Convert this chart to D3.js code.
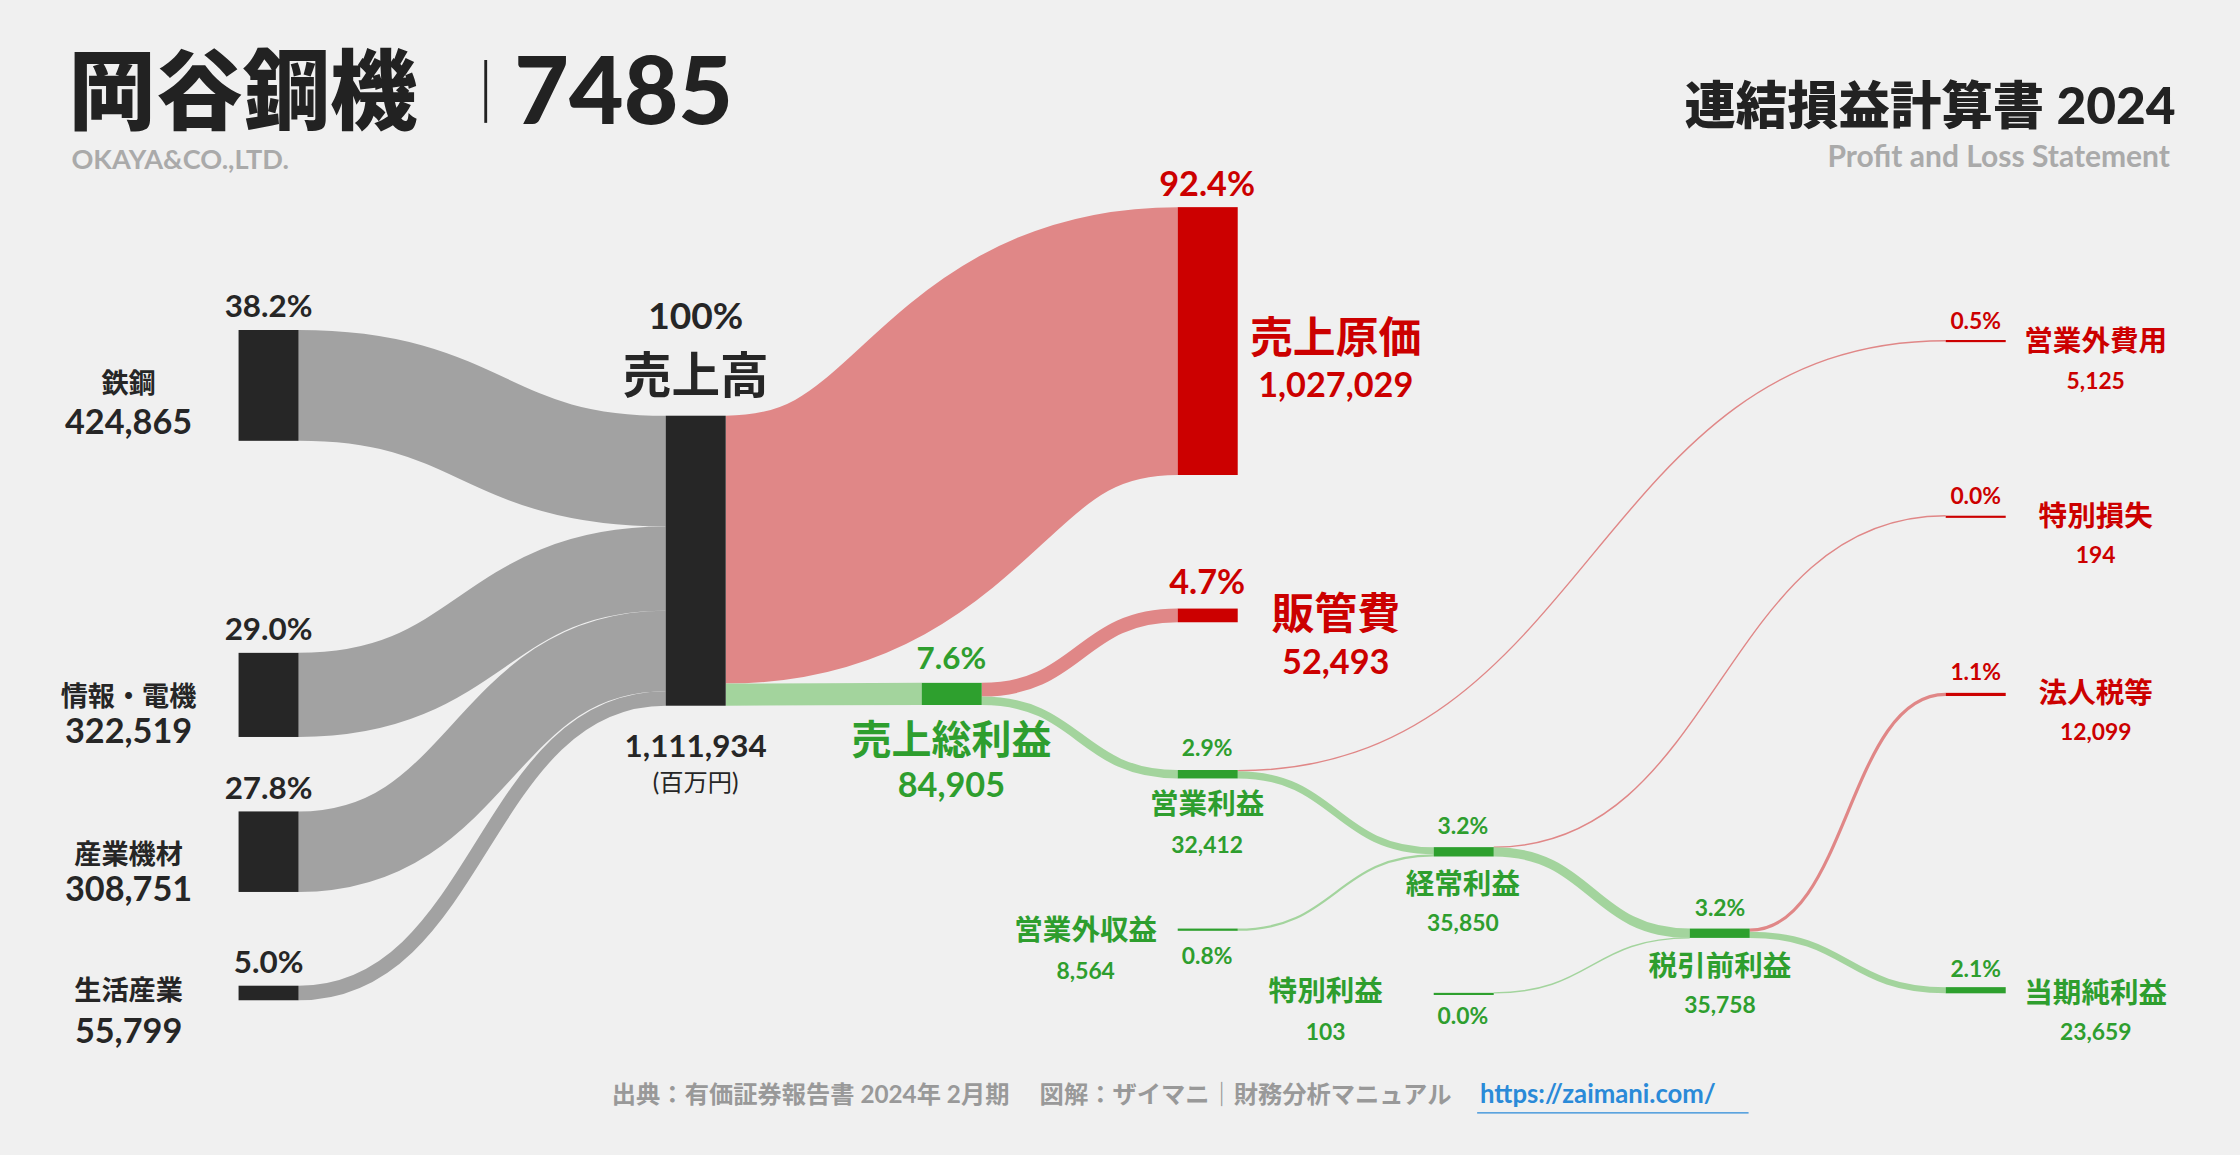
<!DOCTYPE html>
<html><head><meta charset="utf-8">
<script src="https://cdn.jsdelivr.net/npm/d3@7"></script>
<style>body{margin:0;background:#f0f0f0}svg{display:block;font-family:Lato,"Noto Sans CJK JP",sans-serif}</style>
</head><body>
<script>
// data (百万円)
const segNames = ["鉄鋼", "情報・電機", "産業機材", "生活産業"];
const segValues = [424865, 322519, 308751, 55799];
const segPct = ["38.2%", "29.0%", "27.8%", "5.0%"];

const plIds = ["rev", "cost", "gross", "sga", "op", "nonopInc", "nonopExp", "ordinary", "extraGain", "extraLoss", "pretax", "tax", "net"];
const plNames = ["売上高", "売上原価", "売上総利益", "販管費", "営業利益", "営業外収益", "営業外費用", "経常利益", "特別利益", "特別損失", "税引前利益", "法人税等", "当期純利益"];
const plValues = [1111934, 1027029, 84905, 52493, 32412, 8564, 5125, 35850, 103, 194, 35758, 12099, 23659];
const plPct = ["100%", "92.4%", "7.6%", "4.7%", "2.9%", "0.8%", "0.5%", "3.2%", "0.0%", "0.0%", "3.2%", "1.1%", "2.1%"];

const linkList = [
  ["seg0", "rev", "gray"], ["seg1", "rev", "gray"], ["seg2", "rev", "gray"], ["seg3", "rev", "gray"],
  ["rev", "cost", "red"], ["rev", "gross", "green"],
  ["gross", "sga", "red"], ["gross", "op", "green"],
  ["op", "nonopExp", "red"], ["op", "ordinary", "green"], ["nonopInc", "ordinary", "green"],
  ["ordinary", "extraLoss", "red"], ["ordinary", "pretax", "green"], ["extraGain", "pretax", "green"],
  ["pretax", "tax", "red"], ["pretax", "net", "green"]
];

// layout (display units, scaled to 2240 at the end)
const S = 2240 / 1568;
const col = d3.scaleLinear().domain([1, 6]).range([466, 1362]);
const nodeW = 42;
const h = d3.scaleLinear().domain([0, 1111934]).range([0, 203]);
const layout = {
  seg0: [167, 231], seg1: [167, 457], seg2: [167, 568], seg3: [167, 690],
  rev: [col(1), 291], cost: [col(3), 145], gross: [col(2), 478], sga: [col(3), 426],
  op: [col(3), 539], nonopInc: [col(3), 650], nonopExp: [col(6), 238], ordinary: [col(4), 593],
  extraGain: [col(4), 695], extraLoss: [col(6), 361], pretax: [col(5), 650], tax: [col(6), 485], net: [col(6), 691]
};
const colors = {gray: "#a2a2a2", red: "#e08787", green: "#a3d49d"};
const nodeColor = {dark: "#262626", red: "#cc0000", green: "#2ea02e"};
const RED = "#cc0000", GREEN = "#2e9e2e", DARK = "#262626";

const nodes = {};
segNames.forEach((n, i) => nodes["seg" + i] = {value: segValues[i], kind: "dark"});
plIds.forEach((id, i) => nodes[id] = {value: plValues[i], kind: id === "rev" ? "dark" : (["cost", "sga", "nonopExp", "extraLoss", "tax"].includes(id) ? "red" : "green")});
Object.keys(nodes).forEach(k => {
  const n = nodes[k];
  n.x = layout[k][0]; n.y = layout[k][1]; n.h = h(n.value); n.outY = n.y; n.inY = n.y;
});

// value carried by each link
function linkValue(s, t) {
  if (s.startsWith("seg") || s === "nonopInc" || s === "extraGain") return nodes[s].value;
  if (t === "ordinary") return nodes.op.value - nodes.nonopExp.value;
  if (t === "pretax") return nodes.ordinary.value - nodes.extraLoss.value;
  return nodes[t].value;
}

const svg = d3.select("body").append("svg").attr("width", 2240).attr("height", 1155);
svg.append("rect").attr("width", 2240).attr("height", 1155).attr("fill", "#f0f0f0");
const g = svg.append("g").attr("transform", `scale(${S})`);

const link = d3.linkHorizontal();
linkList.forEach(([s, t, c]) => {
  const a = nodes[s], b = nodes[t];
  const w = h(linkValue(s, t));
  const y0 = a.outY + w / 2, y1 = b.inY + w / 2;
  a.outY += w; b.inY += w;
  g.append("path").attr("d", link({source: [a.x + nodeW, y0], target: [b.x, y1]}))
    .attr("fill", "none").attr("stroke", colors[c]).attr("stroke-width", Math.max(w, 1));
});

Object.values(nodes).forEach(n => {
  g.append("rect").attr("x", n.x).attr("y", n.y).attr("width", nodeW).attr("height", Math.max(n.h, 1.5))
    .attr("fill", nodeColor[n.kind]);
});

function txt(x, y, s, size, color, opt = {}) {
  return g.append("text").attr("x", x).attr("y", y).text(s)
    .attr("font-size", size).attr("fill", color).attr("font-weight", opt.w || 700)
    .attr("text-anchor", opt.a || "middle");
}

// segments
const segY = [231, 457, 568, 690];
const nameY = [[275, 304], [494, 520], [605, 631], [700, 730]];
segNames.forEach((n, i) => {
  txt(188, segY[i] - 9, segPct[i], 22, DARK);
  txt(90, nameY[i][0], n, 19, DARK);
  txt(90, nameY[i][1], d3.format(",")(segValues[i]), 24, DARK);
});

const fmt = d3.format(",");
// revenue
txt(487, 230, "100%", 26, DARK);
txt(487, 275, "売上高", 34, DARK);
txt(487, 530, fmt(plValues[0]), 22, DARK);
txt(487, 554, "(百万円)", 17, DARK, {w: 400});
// cost
txt(845, 137, plPct[1], 24, RED);
txt(935, 247, plNames[1], 30, RED);
txt(935, 278, fmt(plValues[1]), 24, RED);
// sga
txt(845, 416, plPct[3], 24, RED);
txt(935, 440, plNames[3], 30, RED);
txt(935, 472, fmt(plValues[3]), 24, RED);
// gross
txt(666, 468, plPct[2], 22, GREEN);
txt(666, 528, plNames[2], 28, GREEN);
txt(666, 558, fmt(plValues[2]), 24, GREEN);
// op
txt(845, 529, plPct[4], 16, GREEN);
txt(845, 570, plNames[4], 20, GREEN);
txt(845, 597, fmt(plValues[4]), 16, GREEN);
// nonop income
txt(760, 658, plNames[5], 20, GREEN);
txt(760, 685, fmt(plValues[5]), 16, GREEN);
txt(845, 675, plPct[5], 16, GREEN);
// ordinary
txt(1024, 584, plPct[7], 16, GREEN);
txt(1024, 626, plNames[7], 20, GREEN);
txt(1024, 652, fmt(plValues[7]), 16, GREEN);
// extra gain
txt(928, 701, plNames[8], 20, GREEN);
txt(928, 728, fmt(plValues[8]), 16, GREEN);
txt(1024, 717, plPct[8], 16, GREEN);
// pretax
txt(1204, 641, plPct[10], 16, GREEN);
txt(1204, 683, plNames[10], 20, GREEN);
txt(1204, 709, fmt(plValues[10]), 16, GREEN);
// right column
[[12, 684, 702, 728, GREEN], [6, 230, 246, 272, RED], [9, 353, 368, 394, RED], [11, 476, 492, 518, RED]].forEach(([i, py, ny, vy, c]) => {
  txt(1383, py, plPct[i], 16, c);
  txt(1467, ny, plNames[i], 20, c);
  txt(1467, vy, fmt(plValues[i]), 16, c);
});

// header
txt(48, 86, "岡谷鋼機", 61, "#222", {a: "start", w: 900});
g.append("line").attr("x1", 340).attr("x2", 340).attr("y1", 42).attr("y2", 86).attr("stroke", "#222").attr("stroke-width", 2);
txt(360, 87, "7485", 66, "#222", {a: "start", w: 900});
txt(50, 118, "OKAYA&CO.,LTD.", 19, "#aaa", {a: "start"});
txt(1523, 87, "連結損益計算書 2024", 36, "#222", {a: "end", w: 900});
txt(1519, 117, "Profit and Loss Statement", 21, "#aaa", {a: "end"});

// footer
txt(1016, 772, "出典：有価証券報告書 2024年 2月期　 図解：ザイマニ｜財務分析マニュアル", 17, "#999", {a: "end"});
txt(1036, 772, "https://zaimani.com/", 18, "#2a8ad8", {a: "start"});
g.append("line").attr("x1", 1034).attr("x2", 1224).attr("y1", 779).attr("y2", 779).attr("stroke", "#2a8ad8").attr("stroke-width", 1);
</script>
</body></html>
